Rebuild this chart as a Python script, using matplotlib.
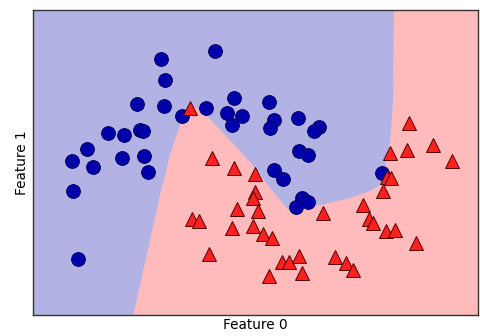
import numpy as np
import matplotlib
matplotlib.use("Agg")
import matplotlib.pyplot as plt

# Class 0 samples (upper moon)
class0_x = [0.11, 0.15, 0.65, -0.13, 0.14, 0.32, 0.56, -0.42, -0.26, -0.10,
            -0.07, -0.63, -0.78, -0.57, -0.28, -0.06, -0.02, -0.77, -0.72, 0.84,
            0.77, 0.92, 0.82, 1.19, 1.24, 1.20, 1.48, 1.69, 1.64, 1.49,
            1.58, 1.24, 1.33, 1.52, 1.58, 1.46, 2.32]
class0_y = [1.41, 1.20, 1.49, 0.96, 0.94, 0.84, 0.92, 0.67, 0.65, 0.70,
            0.69, 0.51, 0.39, 0.33, 0.42, 0.44, 0.28, 0.09, -0.59, 1.02,
            0.87, 0.84, 0.75, 0.98, 0.80, 0.72, 0.82, 0.73, 0.69, 0.49,
            0.45, 0.30, 0.21, 0.02, -0.02, -0.07, 0.27]

# Class 1 samples (lower moon)
class1_x = [0.40, 0.62, 0.84, 1.05, 1.05, 1.03, 0.87, 1.08, 0.42, 0.49,
            0.82, 1.03, 1.13, 1.22, 0.59, 1.32, 1.39, 1.49, 1.19, 1.52,
            1.73, 2.13, 2.19, 2.23, 2.36, 2.45, 2.66, 2.33, 2.37, 2.41,
            2.59, 2.40, 2.57, 2.83, 3.02, 1.85, 1.96, 2.03]
class1_y = [0.92, 0.42, 0.32, 0.26, 0.08, 0.02, -0.09, -0.11, -0.19, -0.21,
            -0.28, -0.26, -0.34, -0.38, -0.54, -0.62, -0.62, -0.56, -0.76, -0.73,
            -0.13, -0.05, -0.19, -0.23, -0.31, -0.30, -0.43, 0.09, 0.23, 0.22,
            0.77, 0.47, 0.50, 0.55, 0.39, -0.57, -0.63, -0.70]

# Outline of the region the classifier assigns to class 0
region0_x = [-1.5, 2.44, 2.44, 2.43, 2.41, 2.38, 2.34, 2.30, 2.20, 2.00,
             1.75, 1.55, 1.38, 1.20, 1.00, 0.75, 0.55, 0.42, 0.36, 0.30,
             0.20, 0.10, 0.00, -0.10, -0.20, -1.5]
region0_y = [2.2, 2.2, 1.90, 1.00, 0.67, 0.45, 0.28, 0.15, 0.09, 0.02,
             -0.04, -0.08, -0.10, 0.12, 0.38, 0.65, 0.86, 0.94, 0.88, 0.75,
             0.45, 0.05, -0.40, -0.85, -1.3, -1.3]

blue = "#0000aa"
red = "#ff2020"

fig = plt.figure(figsize=(4.8, 3.36), dpi=100, facecolor="white")
ax = fig.add_axes([0.069, 0.0625, 0.927, 0.9075])

ax.set_xlim(-1.17, 3.28)
ax.set_ylim(-1.15, 1.90)

# Decision regions
ax.add_patch(plt.Rectangle((-2, -2), 6, 5, color=red, alpha=0.3, lw=0, zorder=0))
ax.fill(region0_x, region0_y, color="white", lw=0, zorder=0.5)
ax.fill(region0_x, region0_y, color=blue, alpha=0.3, lw=0, zorder=1)

ax.plot(class0_x, class0_y, "o", color=blue, markersize=10,
        markeredgecolor="#000055", markeredgewidth=0.6, zorder=3)
ax.plot(class1_x, class1_y, "^", color=red, markersize=10.5,
        markeredgecolor="#550000", markeredgewidth=0.7, zorder=3)

ax.set_xticks([])
ax.set_yticks([])
for s in ax.spines.values():
    s.set_color("#333333")
    s.set_linewidth(1.0)

ax.set_xlabel("Feature 0", fontsize=9.8, labelpad=2)
ax.set_ylabel("Feature 1", fontsize=9.8, labelpad=3)

fig.savefig("out.png", dpi=100, facecolor="white")
